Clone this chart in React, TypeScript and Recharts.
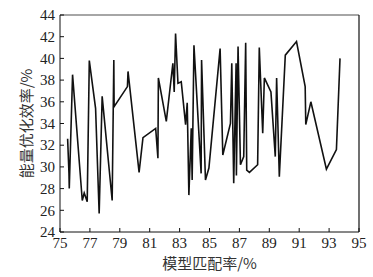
import { LineChart, Line, XAxis, YAxis, ReferenceLine } from 'recharts';

// 模型匹配率 (%) — x values, in drawing order
const matchRate = [
  75.51, 75.6, 75.62, 75.84, 76.49, 76.62, 76.82, 76.96, 77.38, 77.62,
  77.82, 78.49, 78.6, 78.62, 79.51, 79.55, 80.29, 80.55, 81.4, 81.55,
  81.58, 82.11, 82.55, 82.64, 82.73, 82.89, 83.11, 83.4, 83.51, 83.62,
  83.78, 83.84, 83.96, 84.44, 84.47, 84.73, 84.96, 85.71, 85.89, 86.4,
  86.49, 86.62, 86.78, 86.8, 86.91, 87.07, 87.29, 87.42, 87.49, 87.67,
  88.22, 88.33, 88.56, 88.67, 89.11, 89.4, 89.49, 89.67, 90.07, 90.82,
  91.4, 91.44, 91.78, 92.82, 93.49, 93.73,
];

// 能量优化效率 (%) — y values
const efficiency = [
  32.6, 29.4, 28.0, 38.5, 26.9, 27.6, 26.8, 39.8, 35.4, 25.7,
  36.5, 26.9, 39.85, 35.55, 37.4, 38.8, 29.5, 32.7, 33.55, 30.8,
  38.2, 34.2, 39.55, 36.9, 42.3, 37.7, 37.85, 33.9, 35.9, 27.4,
  33.55, 28.8, 41.2, 29.4, 39.85, 28.8, 29.9, 40.9, 31.1, 34.0,
  39.55, 28.5, 39.55, 29.2, 41.1, 30.2, 30.95, 41.45, 29.7, 29.5,
  30.2, 41.0, 33.1, 38.2, 36.9, 30.95, 38.2, 29.1, 40.3, 41.55,
  37.4, 33.9, 36.0, 29.8, 31.6, 40.0,
];

const xTicks = [75, 77, 79, 81, 83, 85, 87, 89, 91, 93, 95];
const yTicks = [24, 26, 28, 30, 32, 34, 36, 38, 40, 42, 44];

const data = matchRate.map((x, i) => ({ x, y: efficiency[i] }));

const serif = 'Liberation Serif';
const cjk = 'Noto Sans CJK SC';

const Tick = ({ x, y, payload, textAnchor, verticalAnchor }: any) => (
  <text
    x={x}
    y={y}
    textAnchor={textAnchor}
    dy={verticalAnchor === 'start' ? '0.71em' : '0.35em'}
    fill="#222"
    fontSize={15}
    fontFamily={serif}
  >
    {payload.value}
  </text>
);

export default function App() {
  return (
    <div style={{ position: 'absolute', left: 0, top: 0, background: '#fff' }}>
      <LineChart
        width={373}
        height={277}
        data={data}
        margin={{ top: 15, right: 14, bottom: 0, left: 0 }}
      >
        <XAxis
          type="number"
          dataKey="x"
          domain={[75, 95]}
          ticks={xTicks}
          interval={0}
          height={45}
          stroke="#111"
          tickSize={-4}
          tickMargin={9}
          tick={<Tick />}
          label={{
            value: '模型匹配率/%',
            position: 'insideBottom',
            offset: 8,
            style: { fill: '#333', fontSize: 15, fontFamily: cjk },
          }}
        />
        <YAxis
          type="number"
          domain={[24, 44]}
          ticks={yTicks}
          interval={0}
          width={60}
          stroke="#111"
          tickSize={-4}
          tickMargin={9}
          tick={<Tick />}
          label={({ viewBox }: any) => (
            <text
              x={25}
              y={viewBox.y + viewBox.height / 2}
              textAnchor="middle"
              dominantBaseline="central"
              transform={`rotate(-90, 25, ${viewBox.y + viewBox.height / 2})`}
              style={{ fill: '#333', fontSize: 15, fontFamily: cjk }}
            >
              能量优化效率/%
            </text>
          )}
        />
        <ReferenceLine y={44} stroke="#888" strokeWidth={1.5} />
        <ReferenceLine x={95} stroke="#111" strokeWidth={1.2} />
        <Line
          type="linear"
          dataKey="y"
          stroke="#111"
          strokeWidth={1.6}
          dot={false}
          isAnimationActive={false}
        />
      </LineChart>
    </div>
  );
}
